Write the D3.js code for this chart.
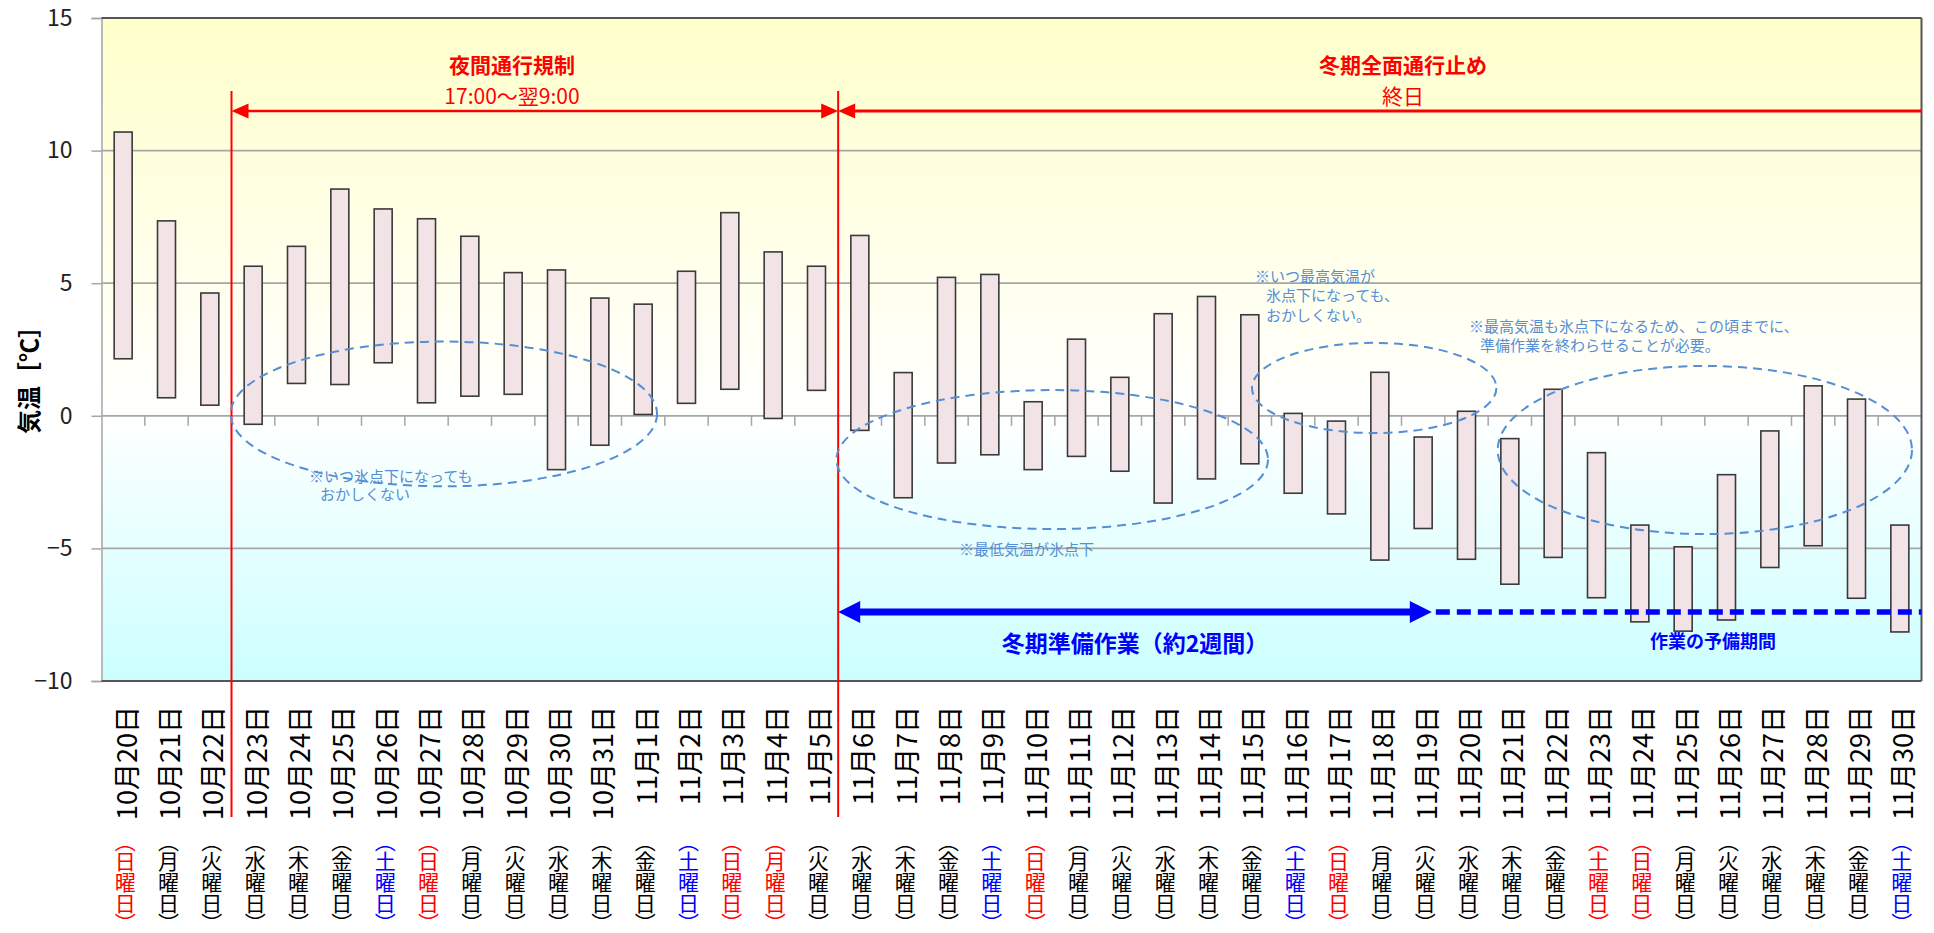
<!DOCTYPE html>
<html><head><meta charset="utf-8">
<script src="https://cdnjs.cloudflare.com/ajax/libs/d3/7.8.5/d3.min.js"></script>
<style>
html,body{margin:0;padding:0;background:#fff;}
svg{display:block;}
text{font-family:"Noto Sans CJK JP","Noto Sans",sans-serif;}
</style></head><body>
<svg id="chart" width="1934" height="933"></svg>
<script>
// ---------- data ----------
const dates = ["10月20日","10月21日","10月22日","10月23日","10月24日","10月25日","10月26日","10月27日","10月28日","10月29日","10月30日","10月31日",
  "11月1日","11月2日","11月3日","11月4日","11月5日","11月6日","11月7日","11月8日","11月9日","11月10日","11月11日","11月12日","11月13日","11月14日","11月15日",
  "11月16日","11月17日","11月18日","11月19日","11月20日","11月21日","11月22日","11月23日","11月24日","11月25日","11月26日","11月27日","11月28日","11月29日","11月30日"];
const weekdays = ["（日曜日）","（月曜日）","（火曜日）","（水曜日）","（木曜日）","（金曜日）","（土曜日）",
  "（日曜日）","（月曜日）","（火曜日）","（水曜日）","（木曜日）","（金曜日）","（土曜日）",
  "（日曜日）","（月曜日）","（火曜日）","（水曜日）","（木曜日）","（金曜日）","（土曜日）",
  "（日曜日）","（月曜日）","（火曜日）","（水曜日）","（木曜日）","（金曜日）","（土曜日）",
  "（日曜日）","（月曜日）","（火曜日）","（水曜日）","（木曜日）","（金曜日）","（土曜日）",
  "（日曜日）","（月曜日）","（火曜日）","（水曜日）","（木曜日）","（金曜日）","（土曜日）"];
// "hol" = Sunday / public holiday, "sat" = Saturday, "" = weekday
const dayType = ["hol","","","","","","sat",
  "hol","","","","","","sat",
  "hol","hol","","","","","sat",
  "hol","","","","","","sat",
  "hol","","","","","","hol",
  "hol","","","","","","sat"];
const highs = [10.7,7.35,4.63,5.64,6.39,8.55,7.8,7.43,6.77,5.4,5.5,4.44,4.21,5.45,7.66,6.18,5.64,6.8,1.63,5.22,5.33,0.53,2.89,1.45,3.85,4.5,3.81,0.09,-0.2,1.64,-0.8,0.17,-0.86,1.0,-1.39,-4.12,-4.94,-2.22,-0.57,1.13,0.63,-4.12];
const lows  = [2.15,0.68,0.4,-0.32,1.22,1.18,2.0,0.49,0.74,0.81,-2.03,-1.11,0.05,0.47,1.0,-0.1,0.96,-0.55,-3.09,-1.78,-1.47,-2.03,-1.53,-2.09,-3.29,-2.38,-1.81,-2.92,-3.7,-5.44,-4.25,-5.41,-6.35,-5.34,-6.86,-7.77,-8.12,-7.7,-5.72,-4.9,-6.88,-8.15];
const yTicks = [15,10,5,0,-5,-10];
const gridValues = [10,5,-5];
const yTitle = "気温［℃］";

// ---------- layout ----------
const plotLeft = 101.5, plotRight = 1921.5, plotTop = 18, plotBottom = 681;
const svg = d3.select("#chart");
const x = d3.scaleBand().domain(dates).range([plotLeft, plotRight]).padding(0);
const y = d3.scaleLinear().domain([-10, 15]).range([plotBottom, plotTop]);
const xf = t => plotLeft + t * x.step();   // fractional category position
const cx = d => x(d) + x.bandwidth() / 2;

// gradients
const defs = svg.append("defs");
const g1 = defs.append("linearGradient").attr("id","gUp").attr("x1",0).attr("y1",0).attr("x2",0).attr("y2",1);
g1.append("stop").attr("offset","0%").attr("stop-color","#ffffcc");
g1.append("stop").attr("offset","100%").attr("stop-color","#ffffff");
const g2 = defs.append("linearGradient").attr("id","gDn").attr("x1",0).attr("y1",0).attr("x2",0).attr("y2",1);
g2.append("stop").attr("offset","0%").attr("stop-color","#ffffff");
g2.append("stop").attr("offset","100%").attr("stop-color","#ccffff");

svg.append("rect").attr("x",plotLeft).attr("y",y(15)).attr("width",plotRight-plotLeft).attr("height",y(0)-y(15)).attr("fill","url(#gUp)");
svg.append("rect").attr("x",plotLeft).attr("y",y(0)).attr("width",plotRight-plotLeft).attr("height",y(-10)-y(0)).attr("fill","url(#gDn)");

// gridlines
svg.append("g").selectAll("line").data(gridValues).join("line")
  .attr("x1",plotLeft).attr("x2",plotRight).attr("y1",d=>y(d)).attr("y2",d=>y(d))
  .attr("stroke","#a6a6a6").attr("stroke-width",1.8);

// y axis
const yAxis = svg.append("g").attr("transform",`translate(${plotLeft},0)`)
  .call(d3.axisLeft(y).tickValues(yTicks).tickSize(10).tickPadding(19).tickFormat(d3.format("d")));
yAxis.select(".domain").attr("stroke","#a6a6a6").attr("stroke-width",1.5);
yAxis.selectAll(".tick line").attr("stroke","#a6a6a6").attr("stroke-width",1.5);
yAxis.selectAll(".tick text").attr("font-family","'Liberation Sans',Arial,sans-serif").attr("font-size",23).attr("fill","#222");

// zero line with ticks at category boundaries
svg.append("line").attr("x1",plotLeft).attr("x2",plotRight).attr("y1",y(0)).attr("y2",y(0))
  .attr("stroke","#a6a6a6").attr("stroke-width",1.8);
svg.append("g").selectAll("line").data(dates.slice(1)).join("line")
  .attr("x1",d=>x(d)).attr("x2",d=>x(d)).attr("y1",y(0)).attr("y2",y(0)+10)
  .attr("stroke","#a6a6a6").attr("stroke-width",1.5);

// plot border
svg.append("line").attr("x1",plotLeft).attr("x2",plotRight).attr("y1",plotTop).attr("y2",plotTop).attr("stroke","#555").attr("stroke-width",2);
svg.append("line").attr("x1",plotRight).attr("x2",plotRight).attr("y1",plotTop).attr("y2",plotBottom).attr("stroke","#555").attr("stroke-width",2);
svg.append("line").attr("x1",plotLeft).attr("x2",plotRight).attr("y1",plotBottom).attr("y2",plotBottom).attr("stroke","#555").attr("stroke-width",2);

// bars (high-low range)
const barW = 18;
svg.append("g").selectAll("rect").data(dates).join("rect")
  .attr("x",d=>cx(d)-barW/2).attr("width",barW)
  .attr("y",(d,i)=>y(highs[i])).attr("height",(d,i)=>y(lows[i])-y(highs[i]))
  .attr("fill","#f2e3e6").attr("stroke","#3a3a3a").attr("stroke-width",1.6);

// red regulation lines
const xA = x(dates[3]), xB = x(dates[17]);
[xA, xB].forEach(xv => {
  svg.append("line").attr("x1",xv).attr("x2",xv).attr("y1",91).attr("y2",817).attr("stroke","#ff0000").attr("stroke-width",2);
});
const head = (tip, yy, dir, len, half) => `M${tip},${yy}L${tip+dir*len},${yy-half}L${tip+dir*len},${yy+half}Z`;
const yRed = 111;
svg.append("line").attr("x1",xA+10).attr("x2",xB-10).attr("y1",yRed).attr("y2",yRed).attr("stroke","#ff0000").attr("stroke-width",2.5);
svg.append("line").attr("x1",xB+10).attr("x2",plotRight).attr("y1",yRed).attr("y2",yRed).attr("stroke","#ff0000").attr("stroke-width",3);
svg.append("path").attr("d",head(xA,yRed,1,17,7.5)).attr("fill","#ff0000");
svg.append("path").attr("d",head(xB,yRed,-1,17,7.5)).attr("fill","#ff0000");
svg.append("path").attr("d",head(xB,yRed,1,17,7.5)).attr("fill","#ff0000");

// two-line red titles
const redText = [
  {t:"夜間通行規制", x:512, y:73, w:"bold"},
  {t:"17:00～翌9:00", x:512, y:104, w:"normal"},
  {t:"冬期全面通行止め", x:1403, y:73, w:"bold"},
  {t:"終日", x:1403, y:104, w:"normal"}
];
svg.append("g").selectAll("text").data(redText).join("text")
  .attr("x",d=>d.x).attr("y",d=>d.y).attr("text-anchor","middle")
  .attr("font-size",21).attr("font-weight",d=>d.w).attr("fill","#ff0000").text(d=>d.t);

// blue preparation arrow
const yBlue = y(-7.4);
const xBlueEnd = xf(30.7);
svg.append("line").attr("x1",xB+15).attr("x2",xBlueEnd-15).attr("y1",yBlue).attr("y2",yBlue).attr("stroke","#0000ff").attr("stroke-width",7);
svg.append("path").attr("d",head(xB,yBlue,1,22,11)).attr("fill","#0000ff");
svg.append("path").attr("d",head(xBlueEnd,yBlue,-1,22,11)).attr("fill","#0000ff");
svg.append("line").attr("x1",xBlueEnd+4).attr("x2",plotRight).attr("y1",yBlue).attr("y2",yBlue)
  .attr("stroke","#0000ff").attr("stroke-width",5.5).attr("stroke-dasharray","14,7");
svg.append("text").attr("x",1135).attr("y",652).attr("text-anchor","middle").attr("font-size",23).attr("font-weight","bold").attr("fill","#0000ff").text("冬期準備作業（約2週間）");
svg.append("text").attr("x",1713).attr("y",648).attr("text-anchor","middle").attr("font-size",18).attr("font-weight","bold").attr("fill","#0000ff").text("作業の予備期間");

// dashed ellipses (category position, temperature, radii)
const ellipses = [
  {c:7.90, v:0.07, rx:4.92, ry:2.73},
  {c:21.94, v:-1.65, rx:4.98, ry:2.62},
  {c:29.37, v:1.05, rx:2.82, ry:1.70},
  {c:37.0, v:-1.29, rx:4.78, ry:3.17}
];
const k = (y(0)-y(1));
svg.append("g").selectAll("ellipse").data(ellipses).join("ellipse")
  .attr("cx",d=>xf(d.c)).attr("cy",d=>y(d.v)).attr("rx",d=>d.rx*x.step()).attr("ry",d=>d.ry*k)
  .attr("fill","none").attr("stroke","#558ed5").attr("stroke-width",2).attr("stroke-dasharray","9,6");

const notes = [
  {t:"※いつ氷点下になっても", x:309, y:482},
  {t:"おかしくない", x:320, y:500},
  {t:"※いつ最高気温が", x:1255, y:282},
  {t:"氷点下になっても、", x:1266, y:301},
  {t:"おかしくない。", x:1266, y:321},
  {t:"※最高気温も氷点下になるため、この頃までに、", x:1469, y:332},
  {t:"準備作業を終わらせることが必要。", x:1480, y:351},
  {t:"※最低気温が氷点下", x:959, y:555}
];
svg.append("g").selectAll("text").data(notes).join("text")
  .attr("x",d=>d.x).attr("y",d=>d.y).attr("font-size",15).attr("fill","#558ed5").text(d=>d.t);

// y-axis title
svg.append("text").attr("transform","translate(27,374) rotate(-90)").attr("text-anchor","middle")
  .attr("dominant-baseline","central").attr("font-size",24).attr("font-weight","bold").attr("fill","#000").text(yTitle);

// x labels (dates)
svg.append("g").selectAll("text").data(dates).join("text")
  .attr("transform",d=>`translate(${cx(d)+2},706) rotate(-90)`)
  .attr("text-anchor","end").attr("dominant-baseline","central")
  .attr("font-size",27).attr("fill","#000").text(d=>d);

// weekday labels (vertical writing)
const dayColor = t => t==="hol" ? "#ff0000" : (t==="sat" ? "#0000ff" : "#000");
svg.append("g").selectAll("text").data(dates).join("text")
  .attr("x",d=>cx(d)+2).attr("y",840)
  .style("writing-mode","vertical-rl").style("font-feature-settings",'"vpal" 1')
  .attr("font-size",21).attr("fill",(d,i)=>dayColor(dayType[i])).text((d,i)=>weekdays[i]);
</script>
</body></html>
